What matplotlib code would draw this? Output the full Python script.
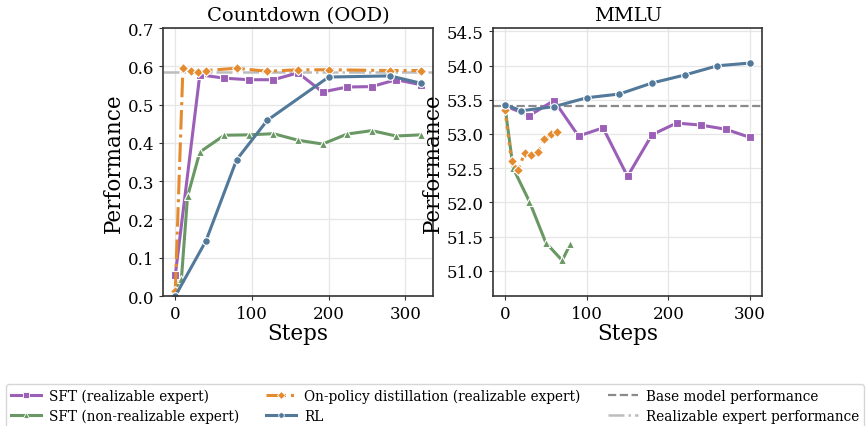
import matplotlib
matplotlib.use("Agg")
import matplotlib.pyplot as plt
from matplotlib.lines import Line2D

# Countdown (OOD)
cd_sft_x = [0, 32, 64, 96, 128, 160, 192, 224, 256, 288, 320]
cd_sft_y = [0.054, 0.578, 0.569, 0.565, 0.565, 0.583, 0.533, 0.546, 0.547, 0.565, 0.552]
cd_sftnr_x = [0, 8, 16, 32, 64, 96, 128, 160, 192, 224, 256, 288, 320]
cd_sftnr_y = [0.02, 0.044, 0.26, 0.376, 0.42, 0.421, 0.424, 0.407, 0.397, 0.423, 0.432, 0.418, 0.421]
cd_opd_x = [0, 10, 20, 30, 40, 80, 120, 160, 200, 280, 320]
cd_opd_y = [0.012, 0.596, 0.587, 0.585, 0.589, 0.595, 0.587, 0.591, 0.591, 0.589, 0.589]
cd_rl_x = [0, 40, 80, 120, 200, 280, 320]
cd_rl_y = [0.0, 0.144, 0.356, 0.459, 0.572, 0.575, 0.556]
cd_expert = 0.584

# MMLU
mm_sft_x = [0, 30, 60, 90, 120, 150, 180, 210, 240, 270, 300]
mm_sft_y = [53.41, 53.27, 53.49, 52.97, 53.09, 52.38, 52.99, 53.16, 53.13, 53.07, 52.95]
mm_sftnr_x = [0, 10, 30, 50, 70, 80]
mm_sftnr_y = [53.40, 52.50, 52.01, 51.41, 51.15, 51.39]
mm_opd_x = [0, 8, 16, 24, 32, 40, 48, 56, 64]
mm_opd_y = [53.35, 52.60, 52.47, 52.72, 52.69, 52.74, 52.92, 53.00, 53.03]
mm_rl_x = [0, 20, 60, 100, 140, 180, 220, 260, 300]
mm_rl_y = [53.43, 53.34, 53.40, 53.53, 53.585, 53.746, 53.863, 53.998, 54.038]
mm_base = 53.41

c_sft = "#9b5fb8"
c_sftnr = "#6a9864"
c_opd = "#e58b2f"
c_rl = "#52789a"
c_base = "#8a8a8a"
c_expert = "#bdbdbd"

plt.rcParams["font.family"] = "DejaVu Serif"

fig = plt.figure(figsize=(8.67, 4.27), dpi=100)
ax1 = fig.add_axes([0.188, 0.3044, 0.3114, 0.6276])
ax2 = fig.add_axes([0.5683, 0.3044, 0.311, 0.6276])

kw = dict(lw=2.2, ms=5.5, mec="white", mew=0.8)


def style(ax, title):
    ax.set_title(title, fontsize=14)
    ax.set_xlabel("Steps", fontsize=15.5, labelpad=0)
    ax.set_ylabel("Performance", fontsize=15.5, labelpad=2)
    ax.grid(True, color="#e6e6e6", lw=0.9)
    ax.set_axisbelow(True)
    ax.tick_params(labelsize=12, length=3, color="#333333")
    for s in ax.spines.values():
        s.set_color("#333333")
        s.set_linewidth(1.2)


ax1.axhline(cd_expert, color=c_expert, ls="-.", lw=1.8, zorder=1)
ax1.plot(cd_sft_x, cd_sft_y, color=c_sft, marker="s", ls="-", **kw)
ax1.plot(cd_sftnr_x, cd_sftnr_y, color=c_sftnr, marker="^", ls="-", **kw)
ax1.plot(cd_opd_x, cd_opd_y, color=c_opd, marker="D", ls="-.", **kw)
ax1.plot(cd_rl_x, cd_rl_y, color=c_rl, marker="o", ls="-", **kw)
ax1.set_ylim(0, 0.7)
ax1.set_xlim(-16, 336)
ax1.set_xticks([0, 100, 200, 300])
ax1.set_yticks([0.0, 0.1, 0.2, 0.3, 0.4, 0.5, 0.6, 0.7])
style(ax1, "Countdown (OOD)")

ax2.axhline(mm_base, color=c_base, ls="--", lw=1.6, zorder=1)
ax2.plot(mm_sft_x, mm_sft_y, color=c_sft, marker="s", ls="-", **kw)
ax2.plot(mm_sftnr_x, mm_sftnr_y, color=c_sftnr, marker="^", ls="-", **kw)
ax2.plot(mm_opd_x, mm_opd_y, color=c_opd, marker="D", ls=":", **kw)
ax2.plot(mm_rl_x, mm_rl_y, color=c_rl, marker="o", ls="-", **kw)
ax2.set_ylim(50.63, 54.55)
ax2.set_xlim(-15, 315)
ax2.set_xticks([0, 100, 200, 300])
ax2.set_yticks([51.0, 51.5, 52.0, 52.5, 53.0, 53.5, 54.0, 54.5])
style(ax2, "MMLU")

hkw = dict(lw=2.2, ms=4, mec="white", mew=0.6)
handles = [
    Line2D([], [], color=c_sft, marker="s", ls="-", **hkw),
    Line2D([], [], color=c_sftnr, marker="^", ls="-", **hkw),
    Line2D([], [], color=c_opd, marker="D", ls="-.", **hkw),
    Line2D([], [], color=c_rl, marker="o", ls="-", **hkw),
    Line2D([], [], color=c_base, ls="--", lw=1.6),
    Line2D([], [], color=c_expert, ls="-.", lw=1.8),
]
labels = [
    "SFT (realizable expert)",
    "SFT (non-realizable expert)",
    "On-policy distillation (realizable expert)",
    "RL",
    "Base model performance",
    "Realizable expert performance",
]
fig.legend(handles, labels, loc="upper left", bbox_to_anchor=(6 / 867, 1 - 385 / 427), ncol=3,
           fontsize=9.8, handlelength=2.2, columnspacing=2.0, handletextpad=0.6,
           labelspacing=0.4, frameon=True, edgecolor="#cccccc", borderpad=0.35,
           borderaxespad=0)

fig.savefig("out.png", dpi=100)
